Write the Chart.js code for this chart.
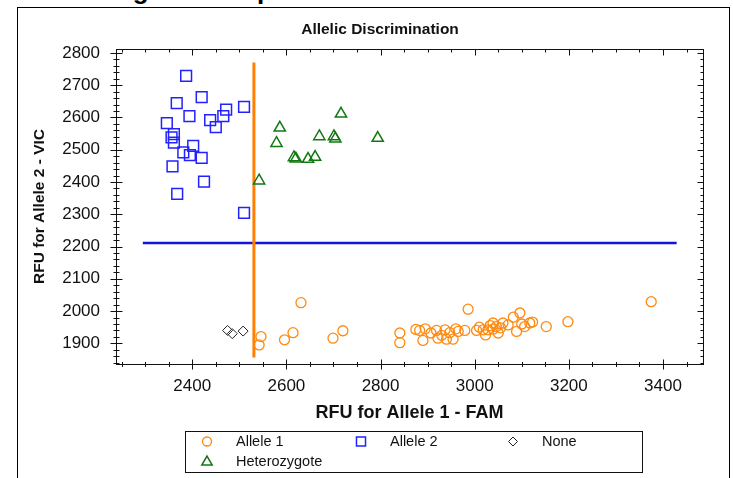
<!DOCTYPE html>
<html>
<head>
<meta charset="utf-8">
<script src="https://cdn.jsdelivr.net/npm/chart.js@4.4.1/dist/chart.umd.min.js"></script>
<style>
  html, body { margin: 0; padding: 0; background: #fff; }
  .page { position: relative; width: 733px; height: 478px; overflow: hidden; }
  .heading {
    position: absolute; left: 20px; top: -25px;
    font: bold 26px "Liberation Sans", Arial, sans-serif; line-height: 30px;
    white-space: nowrap; color: #000;
  }
  .frame {
    position: absolute; left: 17px; top: 7px; width: 713px; height: 480px;
    border: 1px solid #000; border-bottom: none; box-sizing: border-box;
  }
  canvas { position: absolute; left: 0; top: 0; }
</style>
</head>
<body>
<div class="page">
  <div class="heading">Reviewing the Sample Plot</div>
  <div class="frame"></div>
  <canvas id="chart" width="733" height="478"></canvas>
</div>
<script>
'use strict';

// RFU readings per call, [FAM, VIC]
const allele1 = [
  [2546, 1921], [2542, 1895], [2596, 1911], [2614, 1933], [2631, 2026],
  [2699, 1916], [2720, 1939], [2841, 1932], [2841, 1902], [2875, 1943],
  [2883, 1940], [2890, 1909], [2895, 1945], [2907, 1932], [2919, 1940],
  [2922, 1916], [2930, 1925], [2937, 1942], [2940, 1913], [2947, 1933],
  [2954, 1913], [2960, 1945], [2965, 1937], [2979, 1940], [2986, 2006],
  [3004, 1940], [3010, 1950], [3018, 1942], [3023, 1926], [3028, 1942],
  [3033, 1955], [3039, 1944], [3039, 1963], [3046, 1952], [3050, 1932],
  [3055, 1948], [3060, 1963], [3071, 1957], [3082, 1981], [3089, 1937],
  [3096, 1994], [3100, 1960], [3106, 1952], [3117, 1963], [3123, 1966],
  [3152, 1952], [3198, 1967], [3375, 2029]
];
const allele2 = [
  [2387, 2729], [2420, 2663], [2367, 2644], [2510, 2633], [2472, 2624],
  [2466, 2604], [2394, 2604], [2438, 2592], [2346, 2582], [2450, 2570],
  [2361, 2548], [2356, 2538], [2361, 2522], [2402, 2512], [2381, 2492],
  [2395, 2483], [2420, 2475], [2358, 2448], [2425, 2401], [2368, 2363],
  [2510, 2304]
];
const noCall = [[2475, 1940], [2485, 1930], [2508, 1938]];
const heterozygote = [
  [2716, 2611], [2586, 2568], [2670, 2541], [2701, 2541], [2704, 2534],
  [2794, 2536], [2579, 2520], [2616, 2476], [2620, 2472], [2646, 2471],
  [2661, 2477], [2542, 2404]
];

// threshold lines
const famLine = [[2531, 1856], [2531, 2770]];
const vicLine = [[2295, 2211], [3429, 2211]];

const xTickLabels = [2400, 2600, 2800, 3000, 3200, 3400];
const yTickLabels = [1900, 2000, 2100, 2200, 2300, 2400, 2500, 2600, 2700, 2800];
const xRange = [2238, 3485];
const yRange = [1836, 2812];
const xMinorStep = 50;
const yMinorStep = 20;

const FONT = '"Liberation Sans", Arial, sans-serif';
Chart.defaults.font.family = FONT;
Chart.defaults.color = '#111';

const toXY = (arr) => arr.map(p => ({x: p[0], y: p[1]}));

// frame with minor/major ticks on all four sides
const frameTicks = {
  id: 'frameTicks',
  afterDraw(chart) {
    const {ctx, chartArea: a, scales: {x, y}} = chart;
    const L = Math.round(a.left) + 0.5, R = Math.round(a.right) + 0.5;
    const T = Math.round(a.top) + 0.5, B = Math.round(a.bottom) + 0.5;
    ctx.save();
    ctx.strokeStyle = '#111';
    ctx.lineWidth = 1;
    ctx.strokeRect(L, T, R - L, B - T);
    ctx.beginPath();
    for (let v = Math.ceil(xRange[0] / xMinorStep) * xMinorStep; v <= xRange[1]; v += xMinorStep) {
      const px = Math.round(x.getPixelForValue(v)) + 0.5;
      const major = xTickLabels.includes(v);
      const l = major ? 5 : 2.5;
      ctx.moveTo(px, B - l); ctx.lineTo(px, B + l);
      ctx.moveTo(px, T); ctx.lineTo(px, T + (major ? 6 : 3));
    }
    for (let v = Math.ceil(yRange[0] / yMinorStep) * yMinorStep; v <= yRange[1]; v += yMinorStep) {
      const py = Math.round(y.getPixelForValue(v)) + 0.5;
      const major = yTickLabels.includes(v);
      const l = major ? 6 : 3;
      ctx.moveTo(L - l, py); ctx.lineTo(L + l, py);
      ctx.moveTo(R, py); ctx.lineTo(R - (major ? 6 : 3), py);
    }
    ctx.stroke();

    ctx.fillStyle = '#111';
    ctx.font = 'bold 15.5px ' + FONT;
    ctx.textAlign = 'center';
    ctx.textBaseline = 'middle';
    ctx.fillText('Allelic Discrimination', 380, 30);
    ctx.restore();
  }
};

// boxed legend, three columns
const boxLegend = {
  id: 'boxLegend',
  afterDraw(chart) {
    const {ctx} = chart;
    const slots = [[207, 441.5], [361, 441.5], [513, 441.5], [207, 462]];
    const sizes = [4.5, 6.4, 4.5, 6];
    ctx.save();
    ctx.strokeStyle = '#111';
    ctx.lineWidth = 1;
    ctx.strokeRect(185.5, 431.5, 457, 41);
    ctx.font = '14.5px ' + FONT;
    ctx.textAlign = 'left';
    ctx.textBaseline = 'middle';
    for (let i = 0; i < 4; i++) {
      const ds = chart.data.datasets[i];
      const [sx, sy] = slots[i];
      ctx.strokeStyle = ds.borderColor;
      ctx.fillStyle = 'rgba(0,0,0,0)';
      ctx.lineWidth = ds.borderWidth;
      Chart.helpers.drawPoint(ctx, {pointStyle: ds.pointStyle, radius: sizes[i], rotation: 0, borderWidth: ds.borderWidth}, sx, sy);
      ctx.fillStyle = '#111';
      ctx.fillText(ds.label, sx + 29, sy);
    }
    ctx.restore();
  }
};

const pointSet = (label, data, style, radius, color, width) => ({
  label: label,
  data: toXY(data),
  pointStyle: style,
  pointRadius: radius,
  pointHoverRadius: radius,
  borderColor: color,
  backgroundColor: 'rgba(0,0,0,0)',
  borderWidth: width,
  order: 0
});

const lineSet = (data, color, width) => ({
  label: '',
  data: toXY(data),
  showLine: true,
  pointRadius: 0,
  borderColor: color,
  borderWidth: width,
  order: 1
});

new Chart(document.getElementById('chart').getContext('2d'), {
  type: 'scatter',
  data: {
    datasets: [
      pointSet('Allele 1', allele1, 'circle', 5, '#FF8A10', 1.3),
      pointSet('Allele 2', allele2, 'rect', 7.6, '#2222FF', 1.5),
      pointSet('None', noCall, 'rectRot', 5, '#222222', 1),
      pointSet('Heterozygote', heterozygote, 'triangle', 6.5, '#137813', 1.5),
      lineSet(famLine, '#FF8000', 3),
      lineSet(vicLine, '#1414E0', 2.5)
    ]
  },
  options: {
    responsive: false,
    animation: false,
    devicePixelRatio: 1,
    layout: {padding: {left: 28, top: 49, right: 30, bottom: 54}},
    plugins: {
      legend: {display: false},
      tooltip: {enabled: false},
      title: {display: false}
    },
    scales: {
      x: {
        type: 'linear',
        min: xRange[0],
        max: xRange[1],
        afterBuildTicks: (s) => { s.ticks = xTickLabels.map(v => ({value: v})); },
        afterFit: (s) => { s.height = 60; },
        grid: {display: false, drawTicks: false},
        border: {display: false},
        ticks: {padding: 12, font: {size: 17}, maxRotation: 0, autoSkip: false, callback: (v) => String(v)},
        title: {display: true, text: 'RFU for Allele 1 - FAM', font: {size: 18, weight: 'bold'}, padding: 0}
      },
      y: {
        type: 'linear',
        min: yRange[0],
        max: yRange[1],
        afterBuildTicks: (s) => { s.ticks = yTickLabels.map(v => ({value: v})); },
        afterFit: (s) => { s.width = 88; },
        grid: {display: false, drawTicks: false},
        border: {display: false},
        ticks: {padding: 16, font: {size: 17}, autoSkip: false, callback: (v) => String(v)},
        title: {display: true, text: 'RFU for Allele 2 - VIC', font: {size: 15.5, weight: 'bold'}, padding: {top: 2, bottom: 0}}
      }
    }
  },
  plugins: [frameTicks, boxLegend]
});
</script>
</body>
</html>
